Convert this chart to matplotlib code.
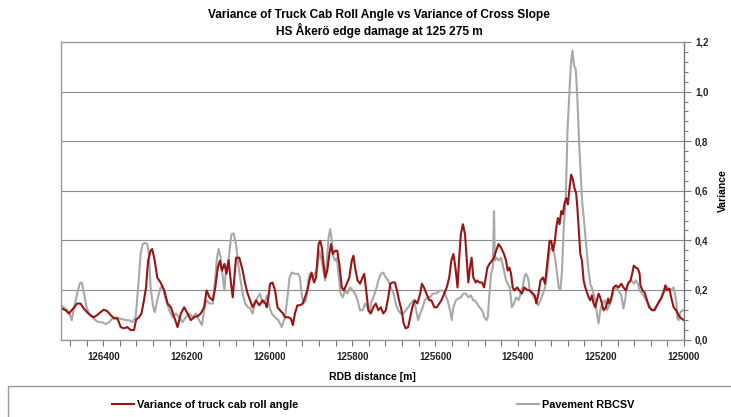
import matplotlib
matplotlib.use("Agg")
import matplotlib.pyplot as plt
from matplotlib.ticker import MultipleLocator, FuncFormatter
from matplotlib.patches import Rectangle

plt.rcParams['font.family'] = ['Liberation Sans', 'DejaVu Sans']
plt.rcParams['font.weight'] = 'bold'

# variance of truck cab roll angle
cab_dist = [126500, 126491, 126483, 126475, 126463, 126455, 126447, 126439, 126431, 126423,
            126415, 126407, 126399, 126391, 126382, 126374, 126366, 126358, 126350, 126342,
            126334, 126326, 126321, 126314, 126308, 126302, 126297, 126292, 126286, 126282,
            126276, 126270, 126262, 126253, 126245, 126237, 126229, 126221, 126213, 126205,
            126197, 126189, 126181, 126172, 126165, 126157, 126151, 126144, 126136, 126130,
            126124, 126119, 126114, 126108, 126103, 126098, 126092, 126088, 126084, 126080,
            126072, 126064, 126058, 126052, 126046, 126040, 126032, 126024, 126016, 126009,
            126006, 126002, 125998, 125992, 125986, 125980, 125974, 125967, 125962, 125954,
            125948, 125943, 125938, 125932, 125926, 125919, 125914, 125908, 125903, 125898,
            125892, 125887, 125881, 125877, 125873, 125869, 125865, 125860, 125855, 125851,
            125847, 125841, 125836, 125831, 125825, 125820, 125813, 125807, 125801, 125797,
            125793, 125787, 125781, 125775, 125771, 125767, 125761, 125755, 125749, 125743,
            125737, 125731, 125725, 125719, 125713, 125708, 125703, 125697, 125692, 125687,
            125681, 125676, 125671, 125665, 125660, 125655, 125649, 125643, 125636, 125632,
            125627, 125621, 125614, 125609, 125602, 125596, 125590, 125585, 125578, 125572,
            125566, 125561, 125556, 125551, 125546, 125542, 125538, 125533, 125528, 125524,
            125520, 125516, 125512, 125508, 125502, 125499, 125493, 125487, 125482, 125478,
            125474, 125469, 125463, 125458, 125453, 125447, 125441, 125434, 125429, 125425,
            125421, 125417, 125413, 125409, 125402, 125397, 125391, 125385, 125378, 125372,
            125367, 125360, 125356, 125351, 125346, 125340, 125335, 125330, 125324, 125320,
            125316, 125312, 125308, 125304, 125300, 125296, 125292, 125288, 125284, 125280,
            125276, 125272, 125268, 125264, 125260, 125257, 125254, 125250, 125246, 125242,
            125238, 125234, 125230, 125226, 125222, 125218, 125214, 125210, 125206, 125202,
            125198, 125194, 125188, 125183, 125180, 125175, 125170, 125164, 125158, 125151,
            125146, 125140, 125135, 125129, 125125, 125121, 125116, 125111, 125107, 125105,
            125100, 125095, 125089, 125084, 125077, 125071, 125065, 125060, 125055, 125049,
            125045, 125041, 125035, 125031, 125025, 125019, 125013, 125007, 125000]
cab_var = [0.125, 0.118, 0.105, 0.12, 0.145, 0.145, 0.125, 0.11, 0.098, 0.09,
           0.098, 0.11, 0.12, 0.115, 0.098, 0.085, 0.085, 0.05, 0.045, 0.05,
           0.038, 0.038, 0.08, 0.09, 0.105, 0.158, 0.21, 0.318, 0.358, 0.365,
           0.318, 0.25, 0.23, 0.198, 0.145, 0.13, 0.09, 0.05, 0.105, 0.13,
           0.105, 0.078, 0.09, 0.095, 0.105, 0.13, 0.198, 0.17, 0.158, 0.21,
           0.29, 0.318, 0.278, 0.305, 0.265, 0.32, 0.225, 0.17, 0.25, 0.33,
           0.33, 0.278, 0.225, 0.185, 0.158, 0.13, 0.158, 0.138, 0.158, 0.145,
           0.13, 0.17, 0.225, 0.23, 0.198, 0.13, 0.118, 0.105, 0.09, 0.09,
           0.085, 0.058, 0.105, 0.138, 0.138, 0.145, 0.17, 0.198, 0.238, 0.27,
           0.23, 0.25, 0.385, 0.398, 0.37, 0.305, 0.25, 0.278, 0.345, 0.385,
           0.345, 0.358, 0.358, 0.305, 0.21, 0.198, 0.225, 0.25, 0.318, 0.338,
           0.29, 0.238, 0.225, 0.25, 0.265, 0.21, 0.118, 0.105, 0.13, 0.145,
           0.118, 0.13, 0.105, 0.118, 0.17, 0.225, 0.23, 0.23, 0.198, 0.158,
           0.118, 0.065, 0.045, 0.05, 0.09, 0.13, 0.158, 0.145, 0.185, 0.225,
           0.21, 0.185, 0.158, 0.158, 0.13, 0.13, 0.145, 0.158, 0.185, 0.21,
           0.25, 0.318, 0.345, 0.29, 0.21, 0.33, 0.425, 0.465, 0.425, 0.33,
           0.23, 0.29, 0.33, 0.25, 0.23, 0.238, 0.23, 0.23, 0.21, 0.25,
           0.29, 0.305, 0.318, 0.33, 0.358, 0.385, 0.37, 0.345, 0.318, 0.278,
           0.29, 0.265, 0.21, 0.198, 0.21, 0.198, 0.185, 0.21, 0.2, 0.198,
           0.19, 0.178, 0.145, 0.185, 0.238, 0.25, 0.225, 0.305, 0.398, 0.398,
           0.358, 0.39, 0.45, 0.49, 0.465, 0.518, 0.505, 0.55, 0.57, 0.545,
           0.61, 0.665, 0.645, 0.61, 0.59, 0.53, 0.45, 0.345, 0.318, 0.238,
           0.21, 0.19, 0.17, 0.158, 0.178, 0.145, 0.13, 0.158, 0.185, 0.17,
           0.145, 0.118, 0.13, 0.165, 0.145, 0.17, 0.21, 0.218, 0.21, 0.225,
           0.21, 0.198, 0.225, 0.238, 0.265, 0.298, 0.29, 0.285, 0.265, 0.218,
           0.198, 0.19, 0.158, 0.13, 0.118, 0.118, 0.138, 0.152, 0.165, 0.19,
           0.218, 0.198, 0.205, 0.17, 0.13, 0.118, 0.098, 0.085, 0.078]

# pavement RBCSV
pave_dist = [126500, 126491, 126483, 126476, 126471, 126463, 126457, 126452, 126447, 126441,
             126435, 126427, 126419, 126411, 126403, 126395, 126386, 126378, 126370, 126362,
             126354, 126346, 126338, 126330, 126322, 126316, 126310, 126305, 126300, 126294,
             126290, 126286, 126280, 126276, 126270, 126262, 126257, 126249, 126241, 126233,
             126225, 126217, 126209, 126201, 126193, 126185, 126177, 126169, 126162, 126157,
             126151, 126144, 126136, 126130, 126126, 126122, 126117, 126112, 126108, 126104,
             126099, 126095, 126091, 126086, 126080, 126075, 126070, 126064, 126058, 126051,
             126046, 126040, 126034, 126028, 126022, 126016, 126009, 126006, 125999, 125994,
             125986, 125978, 125970, 125962, 125956, 125951, 125946, 125938, 125930, 125926,
             125922, 125918, 125911, 125906, 125902, 125895, 125890, 125884, 125879, 125875,
             125871, 125865, 125861, 125857, 125853, 125849, 125845, 125841, 125837, 125833,
             125828, 125823, 125817, 125812, 125805, 125799, 125793, 125787, 125781, 125775,
             125769, 125763, 125757, 125755, 125749, 125743, 125737, 125731, 125725, 125719,
             125713, 125707, 125700, 125695, 125689, 125683, 125676, 125671, 125665, 125659,
             125652, 125647, 125641, 125636, 125630, 125625, 125618, 125612, 125606, 125600,
             125594, 125588, 125582, 125577, 125570, 125564, 125560, 125556, 125550, 125545,
             125538, 125532, 125526, 125520, 125514, 125508, 125505, 125499, 125493, 125487,
             125481, 125476, 125473, 125469, 125465, 125461, 125458, 125456, 125452, 125447,
             125441, 125434, 125429, 125425, 125420, 125415, 125410, 125405, 125399, 125394,
             125389, 125385, 125381, 125376, 125372, 125367, 125362, 125356, 125351, 125346,
             125340, 125335, 125330, 125324, 125319, 125314, 125310, 125306, 125302, 125298,
             125294, 125290, 125285, 125281, 125277, 125273, 125269, 125265, 125261, 125257,
             125253, 125249, 125245, 125241, 125236, 125231, 125226, 125220, 125214, 125210,
             125206, 125202, 125196, 125191, 125186, 125180, 125175, 125170, 125164, 125158,
             125151, 125146, 125142, 125138, 125134, 125127, 125121, 125116, 125111, 125107,
             125101, 125095, 125089, 125084, 125077, 125071, 125065, 125060, 125055, 125049,
             125044, 125037, 125031, 125025, 125019, 125016, 125013, 125009, 125003, 125000]
pave_var = [0.134, 0.125, 0.11, 0.078, 0.125, 0.185, 0.225, 0.23, 0.19, 0.135,
            0.105, 0.09, 0.078, 0.07, 0.07, 0.062, 0.07, 0.085, 0.09, 0.085,
            0.082, 0.078, 0.078, 0.07, 0.09, 0.21, 0.345, 0.385, 0.39, 0.385,
            0.345, 0.21, 0.134, 0.11, 0.158, 0.21, 0.21, 0.158, 0.118, 0.09,
            0.105, 0.09, 0.07, 0.09, 0.105, 0.09, 0.105, 0.078, 0.058, 0.118,
            0.158, 0.145, 0.145, 0.25, 0.33, 0.365, 0.33, 0.25, 0.198, 0.29,
            0.305, 0.37, 0.425, 0.428, 0.385, 0.305, 0.25, 0.185, 0.145, 0.13,
            0.125, 0.105, 0.145, 0.17, 0.185, 0.145, 0.158, 0.178, 0.13, 0.105,
            0.09, 0.078, 0.05, 0.09, 0.17, 0.25, 0.27, 0.265, 0.265, 0.25,
            0.185, 0.145, 0.158, 0.238, 0.265, 0.25, 0.265, 0.29, 0.358, 0.33,
            0.29, 0.238, 0.318, 0.41, 0.445, 0.398, 0.33, 0.318, 0.33, 0.265,
            0.185, 0.17, 0.198, 0.185, 0.21, 0.198, 0.185, 0.158, 0.118, 0.118,
            0.145, 0.13, 0.105, 0.145, 0.17, 0.198, 0.238, 0.265, 0.27, 0.25,
            0.238, 0.21, 0.185, 0.145, 0.118, 0.105, 0.105, 0.118, 0.13, 0.145,
            0.158, 0.13, 0.078, 0.105, 0.13, 0.158, 0.17, 0.17, 0.185, 0.185,
            0.19, 0.198, 0.198, 0.185, 0.158, 0.118, 0.078, 0.13, 0.158, 0.165,
            0.17, 0.185, 0.185, 0.17, 0.178, 0.158, 0.158, 0.145, 0.13, 0.118,
            0.09, 0.078, 0.09, 0.185, 0.265, 0.29, 0.518, 0.318, 0.33, 0.318,
            0.33, 0.278, 0.238, 0.225, 0.21, 0.13, 0.145, 0.17, 0.158, 0.185,
            0.21, 0.25, 0.265, 0.25, 0.198, 0.185, 0.17, 0.158, 0.138, 0.158,
            0.185, 0.21, 0.265, 0.358, 0.37, 0.358, 0.318, 0.265, 0.21, 0.2,
            0.278, 0.45, 0.57, 0.838, 0.97, 1.105, 1.165, 1.105, 1.09, 0.97,
            0.8, 0.665, 0.545, 0.478, 0.385, 0.29, 0.225, 0.198, 0.158, 0.105,
            0.065, 0.118, 0.152, 0.158, 0.118, 0.138, 0.158, 0.198, 0.21, 0.198,
            0.178, 0.125, 0.158, 0.21, 0.23, 0.238, 0.225, 0.238, 0.225, 0.198,
            0.185, 0.17, 0.152, 0.138, 0.118, 0.125, 0.138, 0.158, 0.17, 0.198,
            0.218, 0.205, 0.198, 0.21, 0.158, 0.085, 0.078, 0.11, 0.118, 0.118]

fig = plt.figure(figsize=(7.31, 4.17), dpi=100)
ax = fig.add_axes([61/731, 77.5/417, 623/731, 297.5/417])

ax.plot(pave_dist, pave_var, color='#a8a8a8', lw=1.5, label='Pavement RBCSV')
ax.plot(cab_dist, cab_var, color='#991414', lw=1.5, label='Variance of truck cab roll angle')

ax.set_xlim(126502, 125000)
ax.set_ylim(0, 1.2)

ax.xaxis.set_major_locator(MultipleLocator(200))
ax.xaxis.set_minor_locator(MultipleLocator(40))
ax.yaxis.set_major_locator(MultipleLocator(0.2))
ax.yaxis.set_minor_locator(MultipleLocator(0.04))
ax.yaxis.set_major_formatter(FuncFormatter(lambda v, p: f"{v:.1f}".replace('.', ',')))
ax.xaxis.set_major_formatter(FuncFormatter(lambda v, p: f"{v:.0f}"))

ax.yaxis.tick_right()
ax.yaxis.set_label_position('right')
ax.tick_params(axis='both', which='both', colors='#777777', labelcolor='#222222', labelsize=7)
ax.tick_params(axis='x', which='major', length=4, width=0.8, pad=5)
ax.tick_params(axis='x', which='minor', length=4, width=0.8)
ax.tick_params(axis='y', which='major', length=5, width=0.8, pad=3)
ax.tick_params(axis='y', which='minor', length=3, width=0.8)

ax.grid(axis='y', which='major', color='#8c8c8c', lw=0.8)
ax.set_axisbelow(True)
for side in ['left', 'top', 'right', 'bottom']:
    ax.spines[side].set_color('#999999')
    ax.spines[side].set_linewidth(1.0)
ax.spines['right'].set_color('#777777')

ax.set_xlabel('RDB distance [m]', fontsize=7.5, fontweight='bold', labelpad=7)
ax.set_ylabel('Variance', fontsize=7.5, fontweight='bold', labelpad=7)

fig.text(379/731, 1 - 15/417, 'Variance of Truck Cab Roll Angle vs Variance of Cross Slope',
         ha='center', va='center', fontsize=8.6, fontweight='bold')
fig.text(379/731, 1 - 30/417, 'HS Åkerö edge damage at 125 275 m',
         ha='center', va='center', fontsize=8.6, fontweight='bold')

# legend box below the chart
fig.patches.append(Rectangle((8/731, -0.05), 1.0, (417 - 386)/417 + 0.05,
                             transform=fig.transFigure, facecolor='white',
                             edgecolor='#999999', lw=1.0, clip_on=False))
handles, labels = ax.get_legend_handles_labels()
fig.legend(handles[::-1], labels[::-1], loc='center left',
           bbox_to_anchor=(112/731, 1 - 405/417), ncol=2, frameon=False,
           fontsize=7.8, handlelength=2.0, handletextpad=0.3, columnspacing=20.2,
           borderpad=0, borderaxespad=0)

fig.savefig('out.png', dpi=100)
